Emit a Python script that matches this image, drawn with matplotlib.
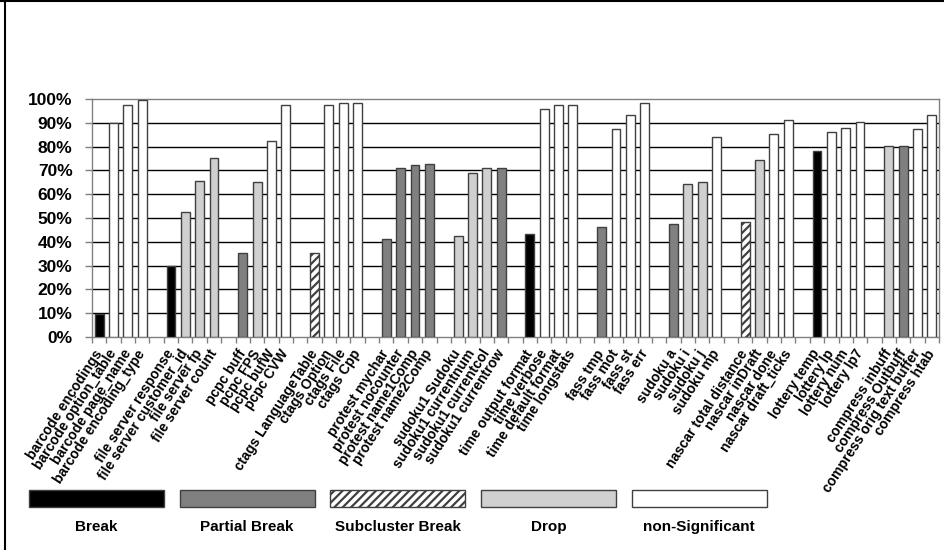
import numpy as np
import matplotlib.pyplot as plt
import matplotlib
from matplotlib.patches import Rectangle
from matplotlib.lines import Line2D

matplotlib.rcParams['font.family'] = ['Liberation Sans', 'DejaVu Sans']
matplotlib.rcParams['hatch.linewidth'] = 1.6

# one entry per slot; None marks the empty gap between groups
labels = [
    "barcode encodings", "barcode option_table", "barcode page_name", "barcode encoding_type", None,
    "file server response", "file server customer_id", "file server fp", "file server count", None,
    "pcpc buff", "pcpc FPS", "pcpc bufW", "pcpc CVW", None,
    "ctags LanguageTable", "ctags Option", "ctags File", "ctags Cpp", None,
    "protest mychar", "protest nocounter", "protest name1Comp", "protest name2Comp", None,
    "sudoku1 Sudoku", "sudoku1 currentnum", "sudoku1 currentcol", "sudoku1 currentrow", None,
    "time output format", "time verbose", "time default format", "time longstats", None,
    "fass tmp", "fass mot", "fass st", "fass err", None,
    "sudoku a", "sudoku i", "sudoku j", "sudoku mp", None,
    "nascar total distance", "nascar inDraft", "nascar done", "nascar draft_ticks", None,
    "lottery temp", "lottery lp", "lottery num", "lottery lp7", None,
    "compress inbuff", "compress Outbuff", "compress orig text buffer", "compress htab",
]
values = [
    9.5, 90, 97.5, 99.4, None,
    30, 52.7, 65.7, 75.3, None,
    35.2, 65.3, 82.3, 97.5, None,
    35.2, 97.5, 98.2, 98.2, None,
    41, 71, 72.3, 72.7, None,
    42.4, 69, 71, 71, None,
    43.1, 96, 97.5, 97.5, None,
    46.1, 87.2, 93.3, 98.2, None,
    47.4, 64.4, 65.3, 83.9, None,
    48.2, 74.4, 85.3, 91.3, None,
    78.2, 86, 88, 90.2, None,
    80.2, 80.2, 87.2, 93.2,
]
kinds = [
    "Break", "non-Significant", "non-Significant", "non-Significant", None,
    "Break", "Drop", "Drop", "Drop", None,
    "Partial Break", "Drop", "non-Significant", "non-Significant", None,
    "Subcluster Break", "non-Significant", "non-Significant", "non-Significant", None,
    "Partial Break", "Partial Break", "Partial Break", "Partial Break", None,
    "Drop", "Drop", "Drop", "Partial Break", None,
    "Break", "non-Significant", "non-Significant", "non-Significant", None,
    "Partial Break", "non-Significant", "non-Significant", "non-Significant", None,
    "Partial Break", "Drop", "Drop", "non-Significant", None,
    "Subcluster Break", "Drop", "non-Significant", "non-Significant", None,
    "Break", "non-Significant", "non-Significant", "non-Significant", None,
    "Drop", "Partial Break", "non-Significant", "non-Significant",
]
legend_names = ["Break", "Partial Break", "Subcluster Break", "Drop", "non-Significant"]

styles = {
    "Break": dict(facecolor="black", hatch=None),
    "Partial Break": dict(facecolor="#808080", hatch=None),
    "Subcluster Break": dict(facecolor="white", hatch="////"),
    "Drop": dict(facecolor="#d0d0d0", hatch=None),
    "non-Significant": dict(facecolor="white", hatch=None),
}

fig = plt.figure(figsize=(9.44, 5.5), dpi=100)
ax = fig.add_axes([92 / 944, 1 - 337 / 550, (939 - 92) / 944, (337 - 99) / 550])

n = len(labels)
for i, (v, k) in enumerate(zip(values, kinds)):
    if v is None:
        continue
    st = styles[k]
    ax.bar(i, v, width=0.62, color=st["facecolor"], edgecolor="#404040",
           linewidth=1.0, hatch=st["hatch"], zorder=3)

ax.set_xlim(-0.5, n - 0.5)
ax.set_ylim(0, 100)
ax.set_yticks(np.arange(0, 101, 10))
ax.set_yticklabels([f"{t}%" for t in range(0, 101, 10)], fontsize=12.5, fontweight="bold")
ax.tick_params(axis="y", length=5, width=1, color="#808080", pad=9)
for y in range(10, 100, 10):
    ax.axhline(y, color="black", linewidth=1, zorder=1)

pos = [i for i, l in enumerate(labels) if l is not None]
ax.set_xticks(pos)
ax.set_xticklabels([labels[i] for i in pos], rotation=57, ha="right", va="center",
                   rotation_mode="anchor", fontsize=10, fontweight="bold")
ax.tick_params(axis="x", which="major", length=0, pad=10)
ax.set_xticks(np.arange(-0.5, n, 1), minor=True)
ax.tick_params(axis="x", which="minor", length=4, width=1, color="#808080")

for s in ax.spines.values():
    s.set_color("#808080")
    s.set_linewidth(1)

# legend strip underneath
lax = fig.add_axes([0, 0, 1, 1], zorder=-1)
lax.set_xlim(0, 944)
lax.set_ylim(550, 0)
lax.axis("off")
for j, name in enumerate(legend_names):
    st = styles[name]
    x0 = 29 + j * 150.7
    lax.add_patch(Rectangle((x0, 490), 135, 17, facecolor=st["facecolor"],
                            edgecolor="#404040", linewidth=1, hatch=st["hatch"]))
    lax.text(x0 + 67.5, 527, name, ha="center", va="center", fontsize=11,
             fontweight="bold", family=["Liberation Sans Narrow", "Liberation Sans"])

fig.add_artist(Line2D([5 / 944, 5 / 944], [0, 1], color="black", linewidth=1.5))
fig.add_artist(Line2D([0, 1], [0.999, 0.999], color="black", linewidth=1.5))

fig.savefig("out.png", dpi=100)
